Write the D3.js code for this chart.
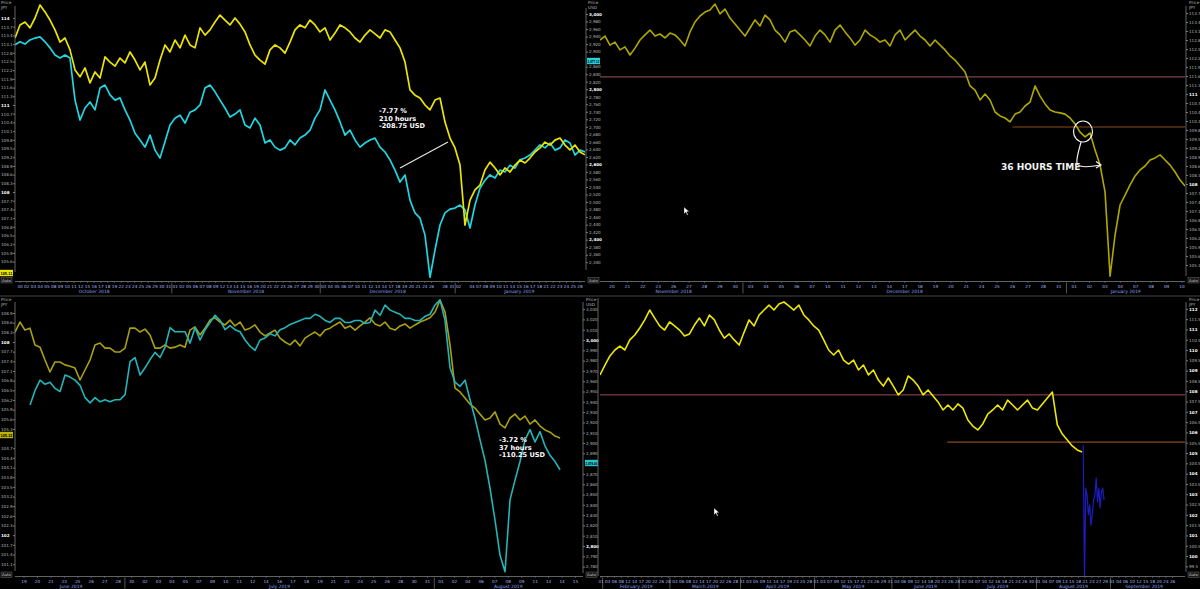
<!DOCTYPE html>
<html>
<head>
<meta charset="utf-8">
<script src="https://cdn.jsdelivr.net/npm/d3@7"></script>
<style>
  body { margin: 0; background: #000; }
  svg { display: block; }
  text { font-family: "DejaVu Sans", sans-serif; }
</style>
</head>
<body>
<script>
// ---------- data ----------

// top left : Oct 2018 - Jan 2019, USD/JPY (left axis) and S&P (right axis)
const tlMonths = ["October 2018", "November 2018", "December 2018", "January 2019"];
const tlDays = [
  ["30","02","03","04","05","08","09","10","11","12","15","16","17","18","19","22","23","24","25","26","29","30","31"],
  ["01","02","05","06","07","08","09","12","13","14","15","16","19","20","21","22","23","26","27","28","29","30"],
  ["03","04","05","06","07","10","11","12","13","14","17","18","19","20","21","24","26","","28","31"],
  ["02","","04","07","08","09","10","11","14","15","16","17","18","21","22","23","24","25","28"]
];
const tlYen = [
  113.31,113.76,113.86,113.66,114.00,114.45,114.21,113.93,113.59,113.17,
  113.31,112.90,112.21,111.97,112.28,111.76,112.14,111.93,112.66,112.48,
  112.34,112.62,112.45,112.83,112.55,112.21,112.48,111.69,111.93,112.55,
  113.07,112.83,113.24,112.97,113.41,113.07,112.97,113.66,113.41,113.59,
  113.86,114.10,113.93,113.76,114.00,113.79,113.52,113.07,112.72,112.55,
  112.41,112.90,113.07,112.97,112.79,113.17,113.59,113.76,113.66,113.93,
  113.76,113.52,113.66,113.24,113.48,113.76,113.66,113.52,113.31,113.17,
  113.41,113.59,113.45,113.31,113.59,113.52,113.24,112.97,112.48,111.52,
  111.34,111.24,111.00,110.83,111.17,111.24,110.41,109.86,109.52,108.93,
  106.86,107.72,108.07,108.24,108.76,109.03,108.83,108.59,108.83,108.69,
  108.93,109.10,109.00,109.17,109.38,109.52,109.72,109.62,109.79,109.86,
  109.62,109.45,109.62,109.38,109.28
];
const tlSpx = [
  2918,2926,2920,2931,2936,2939,2926,2910,2891,2883,
  2891,2883,2771,2718,2750,2766,2745,2803,2811,2785,
  2771,2777,2745,2718,2683,2665,2646,2678,2638,2617,
  2660,2705,2723,2731,2710,2739,2745,2758,2803,2811,
  2793,2771,2750,2726,2734,2745,2705,2697,2723,2705,
  2657,2665,2646,2638,2644,2665,2652,2670,2678,2691,
  2723,2745,2798,2771,2745,2713,2678,2691,2665,2646,
  2657,2665,2670,2646,2633,2612,2585,2553,2572,2505,
  2471,2457,2412,2300,2372,2439,2471,2481,2484,2492,
  2479,2431,2492,2537,2558,2572,2564,2585,2580,2598,
  2590,2612,2617,2625,2638,2652,2644,2657,2638,2644,
  2665,2657,2625,2638,2633
];

// top right : Nov 2018 - Jan 2019, USD/JPY
const trMonths = ["November 2018", "December 2018", "January 2019"];
const trDays = [
  ["20","21","22","23","26","27","28","29","30"],
  ["03","04","05","06","07","10","11","12","13","14","17","18","19","20","21","24","25","26","27","28","31"],
  ["01","02","03","04","07","08","09","10"]
];
const trYen = [
  112.80,112.93,112.63,112.73,112.47,112.57,112.30,112.53,112.80,112.97,
  113.13,112.93,113.00,112.87,113.03,112.97,112.80,112.60,113.07,113.40,
  113.60,113.73,113.80,114.00,113.67,113.83,113.53,113.33,113.13,112.93,
  113.20,113.47,113.27,113.63,113.47,113.13,112.97,112.73,113.07,113.13,
  112.97,112.80,112.60,112.93,113.13,112.97,112.73,113.13,113.30,113.07,
  112.87,112.63,112.80,113.13,112.97,112.87,112.73,112.80,112.60,112.97,
  113.13,112.80,112.97,113.13,112.93,112.80,112.60,112.80,112.63,112.47,
  112.27,112.13,111.93,111.73,111.27,111.13,110.80,111.00,110.80,110.40,
  110.27,110.20,110.07,110.33,110.40,110.60,110.73,111.27,110.93,110.67,
  110.47,110.40,110.37,110.33,110.20,110.00,109.73,109.57,109.70,109.13,
  108.63,107.73,104.93,106.30,107.30,107.63,107.97,108.27,108.47,108.60,
  108.80,108.87,108.97,108.80,108.63,108.40,108.13,107.93
];
const trLevelValues = [111.57, 109.90];
const trLevelFrom = [null, 26];

// bottom left : Jun - Aug 2019, USD/JPY (left axis) and S&P (right axis)
const blMonths = ["June 2019", "July 2019", "August 2019"];
const blDays = [
  ["19","20","21","23","25","26","27","28"],
  ["30","02","03","04","05","07","09","10","11","12","14","16","17","18","19","21","23","24","25","26","28","30","31"],
  ["01","02","04","06","07","08","09","11","13","14","15"]
];
const blYen = [
  108.31,108.62,108.37,108.43,107.91,107.84,107.44,107.07,107.38,107.38,
  107.29,107.25,107.19,106.82,107.13,107.44,107.91,107.97,107.81,107.81,
  107.69,107.69,107.81,108.43,108.43,108.31,108.40,108.22,107.81,107.81,
  107.91,107.81,107.84,107.91,107.84,108.37,108.47,108.22,108.43,108.68,
  108.75,108.62,108.53,108.68,108.50,108.62,108.37,108.43,108.53,108.31,
  108.19,108.28,108.37,108.12,108.00,107.91,108.06,107.88,108.12,108.22,
  108.31,108.19,108.37,108.43,108.53,108.62,108.43,108.50,108.37,108.50,
  108.62,108.75,108.56,108.50,108.62,108.43,108.37,108.50,108.56,108.43,
  108.53,108.62,108.68,108.75,108.93,109.30,108.93,107.91,106.57,106.45,
  106.26,106.07,105.95,105.76,105.58,105.64,105.83,105.45,105.33,105.64,
  105.76,105.58,105.70,105.45,105.58,105.39,105.27,105.20,105.08,105.02
];
const blSpx = [
  2937,2951,2961,2957,2959,2953,2950,2966,2964,2961,
  2956,2944,2939,2944,2940,2942,2940,2942,2942,2947,
  2979,2983,2966,2973,2981,2988,2983,2993,3012,3008,
  3008,3008,2997,3012,3000,3010,3017,3024,3019,3010,
  3014,3010,3008,3000,2994,2990,3000,3002,3006,3004,
  3010,3012,3015,3017,3019,3021,3021,3025,3023,3019,
  3017,3021,3021,3017,3017,3019,3019,3016,3017,3029,
  3024,3034,3029,3027,3025,3021,3021,3019,3019,3023,
  3025,3034,3039,3019,2973,2959,2955,2961,2942,2924,
  2903,2883,2856,2825,2791,2775,2845,2864,2882,2903,
  2913,2901,2911,2897,2888,2882,2874
];

// bottom right : Feb - Sep 2019, USD/JPY and the second (blue) run
const brFirstDay = "2019-01-31";
const brLastDay = "2019-09-27";
const brYen = [
  108.79,109.27,109.71,110.00,110.19,110.00,110.49,110.73,111.07,111.46,
  111.94,111.55,111.17,110.97,111.36,111.17,110.97,110.68,110.78,111.21,
  111.55,111.17,111.70,111.46,110.97,110.58,110.78,110.49,110.24,110.87,
  111.46,111.17,111.70,111.94,112.18,111.94,112.23,112.33,112.14,111.94,
  112.18,111.70,111.46,111.17,110.97,110.49,110.00,109.76,110.00,109.51,
  109.32,109.51,109.03,109.27,108.79,109.03,108.54,108.25,108.64,108.25,
  107.82,108.06,108.74,108.54,108.25,107.82,108.06,107.77,107.48,107.09,
  107.33,107.09,107.38,107.18,106.60,106.31,106.12,106.41,106.89,107.09,
  107.33,107.09,107.57,107.33,107.09,107.33,107.57,107.18,107.09,107.38,
  107.67,107.96,106.36,105.92,105.63,105.34,105.15,105.05
];
const brBlue = [105.39,98.98,103.30,102.96,101.99,102.48,101.50,101.99,102.72,102.96,103.79,102.62,103.30,102.33,103.11,103.30,102.72];
const brLevelValues = [107.82, 105.53];
const brLevelFrom = [null, 103];

// axis tick values
const tlJpyTicks = d3.range(1050, 1146, 3).map(d => d / 10);
const tlUsdTicks = d3.range(2340, 3041, 20);
const trJpyTicks = d3.range(1044, 1146, 3).map(d => d / 10);
const blJpyTicks = d3.range(1011, 1096, 3).map(d => d / 10);
const blUsdTicks = d3.range(2780, 3041, 10);
const brJpyTicks = d3.range(980, 1126, 5).map(d => d / 10);

// ---------- chart ----------
const svg = d3.select("body").append("svg").attr("width", 1200).attr("height", 589);
svg.append("rect").attr("width", 1200).attr("height", 589).attr("fill", "#000");

const dayColor = "#a9b7f2", monthColor = "#8aa0f0", labelColor = "#b9b9b9", axisColor = "#7b7b7b";

// y scales (anchored on the printed tick marks)
const tlJpy = d3.scaleLinear().domain([114, 105]).range([18, 279]);
const tlUsd = d3.scaleLinear().domain([3000, 2340]).range([14, 262.2]);
const trJpy = d3.scaleLinear().domain([113.7, 104.9]).range([13, 277]);
const blJpy = d3.scaleLinear().domain([108, 102]).range([342, 535.2]);
const blUsd = d3.scaleLinear().domain([2800, 3000]).range([546, 340]);
const brJpy = d3.scaleLinear().domain([100, 110]).range([556, 350]);

// bottom-right trading days, labelled every 2nd day (Mondays show the Sunday)
const parse = d3.timeParse("%Y-%m-%d");
const brDates = d3.timeDay.range(parse(brFirstDay), d3.timeDay.offset(parse(brLastDay), 1))
  .filter(d => d.getDay() !== 0 && d.getDay() !== 6);
const brMonths = [];
const brDays = [];
brDates.forEach((d, i) => {
  const name = d3.timeFormat("%B %Y")(d);
  if (brMonths[brMonths.length - 1] !== name) { brMonths.push(name); brDays.push([]); }
  let lab = "";
  if (i % 2 === 0) lab = d3.timeFormat("%d")(d.getDay() === 1 ? d3.timeDay.offset(d, -1) : d);
  brDays[brDays.length - 1].push(lab);
});

function isMajor(d) { return Number.isInteger(d) && (d < 1000 || d % 200 === 0); }

// skip: y positions covered by a value tag
function yAxis(g, scale, ticks, side, xPos, fmt, top, bottom, skip = []) {
  const ax = (side === "left" ? d3.axisLeft(scale) : d3.axisRight(scale))
    .tickValues(ticks.filter(t => scale(t) >= top && scale(t) <= bottom && skip.every(s => Math.abs(scale(t) - s) > 5)))
    .tickSize(2).tickSizeOuter(0).tickPadding(1).tickFormat(fmt);
  const a = g.append("g").attr("transform", `translate(${xPos},0)`).call(ax);
  a.select(".domain").remove();
  a.selectAll(".tick line").attr("stroke", axisColor);
  const txt = a.selectAll(".tick text")
    .attr("fill", d => isMajor(d) ? "#ffffff" : labelColor)
    .attr("font-weight", d => isMajor(d) ? "bold" : "normal")
    .attr("font-size", 4.1);
  if (side === "left") txt.attr("text-anchor", "start").attr("x", -xPos + 1);
  g.append("line").attr("x1", xPos).attr("x2", xPos).attr("y1", top - 4).attr("y2", bottom + 4)
    .attr("stroke", axisColor).attr("stroke-width", 0.8);
}

const jpyFmt = d => Number.isInteger(d) ? d3.format("d")(d) : d3.format(".1f")(d);
const usdFmt = d3.format(",");

function header(g, xPos, y, unit) {
  g.append("text").attr("x", xPos).attr("y", y).attr("font-size", 4.2).attr("fill", labelColor).text("Price");
  g.append("text").attr("x", xPos).attr("y", y + 5).attr("font-size", 4.2).attr("fill", labelColor).text(unit);
}

function autoBox(g, xPos, y) {
  g.append("rect").attr("x", xPos).attr("y", y).attr("width", 11).attr("height", 5.5)
    .attr("fill", "#1a1a1a").attr("stroke", "#666").attr("stroke-width", 0.5);
  g.append("text").attr("x", xPos + 5.5).attr("y", y + 4.2).attr("font-size", 3.8).attr("fill", "#cfcfcf")
    .attr("text-anchor", "middle").text("Auto");
}

function valueTag(g, xPos, y, txt, bg) {
  g.append("rect").attr("x", xPos).attr("y", y - 3.2).attr("width", 13).attr("height", 6.4).attr("fill", bg);
  g.append("text").attr("x", xPos + 0.6).attr("y", y + 1.5).attr("font-size", 4)
    .attr("textLength", 11.8).attr("lengthAdjust", "spacingAndGlyphs")
    .attr("fill", "#000").attr("font-weight", "bold").text(txt);
}

function drawPanel(p) {
  const g = svg.append("g");
  const slots = [];
  p.days.forEach((list, mi) => list.forEach(d => slots.push({ label: d, month: mi })));
  const x = d3.scaleLinear().domain([0, slots.length - 1]).range(p.xRange);
  const [bx0, by0, bx1, by1] = p.box;

  const cid = "clip-" + p.id;
  svg.append("clipPath").attr("id", cid).append("rect")
    .attr("x", bx0).attr("y", by0).attr("width", bx1 - bx0).attr("height", by1 - by0);

  // time axis
  g.append("line").attr("x1", bx0).attr("x2", bx1).attr("y1", p.axisY).attr("y2", p.axisY)
    .attr("stroke", axisColor).attr("stroke-width", 0.8);
  const labelled = slots.map((s, i) => ({ ...s, i })).filter(s => s.label !== "");
  g.selectAll(".dtick").data(labelled).join("line")
    .attr("x1", d => x(d.i)).attr("x2", d => x(d.i))
    .attr("y1", p.axisY).attr("y2", p.axisY + 1.5).attr("stroke", axisColor).attr("stroke-width", 0.6);
  g.selectAll(".dlab").data(labelled).join("text")
    .attr("x", d => x(d.i)).attr("y", p.axisY + 6)
    .attr("text-anchor", "middle").attr("font-size", 4.2).attr("fill", dayColor)
    .text(d => d.label);

  p.months.forEach((m, mi) => {
    const idx = slots.map((s, i) => s.month === mi ? i : -1).filter(i => i >= 0);
    const a = Math.max(x(idx[0] - 0.5), bx0), b = Math.min(x(idx[idx.length - 1] + 0.5), bx1);
    if (idx.length > 3) {
      g.append("text").attr("x", (a + b) / 2).attr("y", p.axisY + 11.5)
        .attr("text-anchor", "middle").attr("font-size", 4.5).attr("fill", monthColor).text(m);
    }
    if (mi > 0) {
      g.append("line").attr("x1", a).attr("x2", a).attr("y1", p.axisY + 1).attr("y2", p.axisY + 12)
        .attr("stroke", "#8f8f8f").attr("stroke-width", 0.6);
    }
  });

  // horizontal levels
  (p.levels || []).forEach(l => {
    g.append("line").attr("clip-path", `url(#${cid})`)
      .attr("x1", l.from == null ? bx0 : x(l.from)).attr("x2", bx1)
      .attr("y1", l.y(l.v)).attr("y2", l.y(l.v))
      .attr("stroke", l.color).attr("stroke-width", 1.2);
  });

  // price series
  p.series.forEach(s => {
    const ix = d3.scaleLinear().domain([0, s.values.length - 1]).range(s.span);
    const line = d3.line().x((d, i) => x(ix(i))).y(d => s.y(d));
    g.append("path").attr("clip-path", `url(#${cid})`)
      .attr("d", line(s.values)).attr("fill", "none")
      .attr("stroke", s.color).attr("stroke-width", s.width || 1.6)
      .attr("stroke-linejoin", "round");
  });
  return g;
}

// ---- top left ----
const gTL = drawPanel({
  id: "tl", box: [15, 0, 585, 280], xRange: [20, 580], axisY: 281.5,
  days: tlDays, months: tlMonths,
  series: [
    { values: tlSpx, y: tlUsd, color: "#1fd6e2", span: [-0.74, 83.74], width: 1.7 },
    { values: tlYen, y: tlJpy, color: "#ece500", span: [-0.74, 83.74], width: 1.7 }
  ]
});
yAxis(gTL, tlJpy, tlJpyTicks, "left", 15, jpyFmt, 10, 268, [273]);
yAxis(gTL, tlUsd, tlUsdTicks, "right", 586, usdFmt, 12, 266, [61]);
header(gTL, 1, 3.5, "JPY");
header(gTL, 588, 3.5, "USD");
valueTag(gTL, 0, 273, "105.11", "#e9e400");
valueTag(gTL, 587, 61, "2,877.12", "#28d2dc");
autoBox(gTL, 1, 277.5);
autoBox(gTL, 588, 277.5);

gTL.append("line").attr("x1", 400).attr("y1", 168).attr("x2", 448).attr("y2", 142)
  .attr("stroke", "#e8e8e8").attr("stroke-width", 1.1);
["-7.77 %", "210 hours", "-208.75 USD"].forEach((t, i) => {
  gTL.append("text").attr("x", 379).attr("y", 113 + i * 7.6).attr("font-size", 6.6)
    .attr("font-weight", "bold").attr("fill", "#ffffff").text(t);
});

// ---- top right ----
const gTR = drawPanel({
  id: "tr", box: [600, 0, 1185, 280], xRange: [612, 1182], axisY: 281.5,
  days: trDays, months: trMonths,
  levels: [
    { v: trLevelValues[0], from: trLevelFrom[0], y: trJpy, color: "#7b4651" },
    { v: trLevelValues[1], from: trLevelFrom[1], y: trJpy, color: "#8b4a1c" }
  ],
  series: [{ values: trYen, y: trJpy, color: "#b0a800", span: [-0.78, 37.2] }]
});
yAxis(gTR, trJpy, trJpyTicks, "right", 1186, jpyFmt, 10, 272);
header(gTR, 1189, 3.5, "JPY");
autoBox(gTR, 1188, 277.5);
gTR.append("ellipse").attr("cx", 1083).attr("cy", 131.5).attr("rx", 9.5).attr("ry", 10.5)
  .attr("fill", "none").attr("stroke", "#f2f2f2").attr("stroke-width", 1.2);
gTR.append("path").attr("d", "M1081,142 C1079,150 1076,158 1077,164 C1080,168 1090,167 1100,165")
  .attr("fill", "none").attr("stroke", "#f2f2f2").attr("stroke-width", 1.2);
gTR.append("path").attr("d", "M1096,161.5 L1101,165 L1096,168")
  .attr("fill", "none").attr("stroke", "#f2f2f2").attr("stroke-width", 1.2);
gTR.append("text").attr("x", 1001).attr("y", 170).attr("font-size", 9).attr("font-weight", "bold")
  .attr("fill", "#f4f4f4").text("36 HOURS TIME");
gTR.append("path").attr("d", "M684,207 l0,7 l1.8,-1.8 l1.4,3 l1,-0.5 l-1.4,-3 l2.5,0 z")
  .attr("fill", "#ffffff").attr("stroke", "#000").attr("stroke-width", 0.4);

// separator between the rows
svg.append("line").attr("x1", 0).attr("x2", 1200).attr("y1", 296).attr("y2", 296)
  .attr("stroke", "#555").attr("stroke-width", 0.8);

// ---- bottom left ----
const gBL = drawPanel({
  id: "bl", box: [15, 298, 583, 576], xRange: [24, 575.5], axisY: 576.5,
  days: blDays, months: blMonths,
  series: [
    { values: blYen, y: blJpy, color: "#a89f12", span: [-0.67, 39.85] },
    { values: blSpx, y: blUsd, color: "#23b5b8", span: [0.45, 39.85] }
  ]
});
yAxis(gBL, blJpy, blJpyTicks, "left", 15, jpyFmt, 306, 567, [435]);
yAxis(gBL, blUsd, blUsdTicks, "right", 583, usdFmt, 306, 569, [463]);
header(gBL, 1, 300.5, "JPY");
header(gBL, 586, 300.5, "USD");
valueTag(gBL, 0, 435, "105.32", "#bdb400");
valueTag(gBL, 585, 463, "2,876.00", "#28c2c8");
autoBox(gBL, 1, 572);
autoBox(gBL, 586, 572);
["-3.72 %", "37 hours", "-110.25 USD"].forEach((t, i) => {
  gBL.append("text").attr("x", 499).attr("y", 442 + i * 7.6).attr("font-size", 6.6)
    .attr("font-weight", "bold").attr("fill", "#ffffff").text(t);
});

// ---- bottom right ----
const gBR = drawPanel({
  id: "br", box: [600, 298, 1185, 576], xRange: [601, 1176], axisY: 576.5,
  days: brDays, months: brMonths,
  levels: [
    { v: brLevelValues[0], from: brLevelFrom[0], y: brJpy, color: "#7b3d48" },
    { v: brLevelValues[1], from: brLevelFrom[1], y: brJpy, color: "#8b4a1c" }
  ],
  series: [
    { values: brYen, y: brJpy, color: "#efe800", span: [-0.3, 143.1] },
    { values: brBlue, y: brJpy, color: "#1c1cc4", span: [143.4, 149.6], width: 1.2 }
  ]
});
gBR.append("line").attr("x1", 598).attr("x2", 598).attr("y1", 298).attr("y2", 576)
  .attr("stroke", axisColor).attr("stroke-width", 0.8);
yAxis(gBR, brJpy, brJpyTicks, "right", 1186, jpyFmt, 306, 568);
header(gBR, 1189, 300.5, "JPY");
autoBox(gBR, 1188, 572);
gBR.append("path").attr("d", "M714,508 l0,7 l1.8,-1.8 l1.4,3 l1,-0.5 l-1.4,-3 l2.5,0 z")
  .attr("fill", "#ffffff").attr("stroke", "#000").attr("stroke-width", 0.4);
</script>
</body>
</html>
